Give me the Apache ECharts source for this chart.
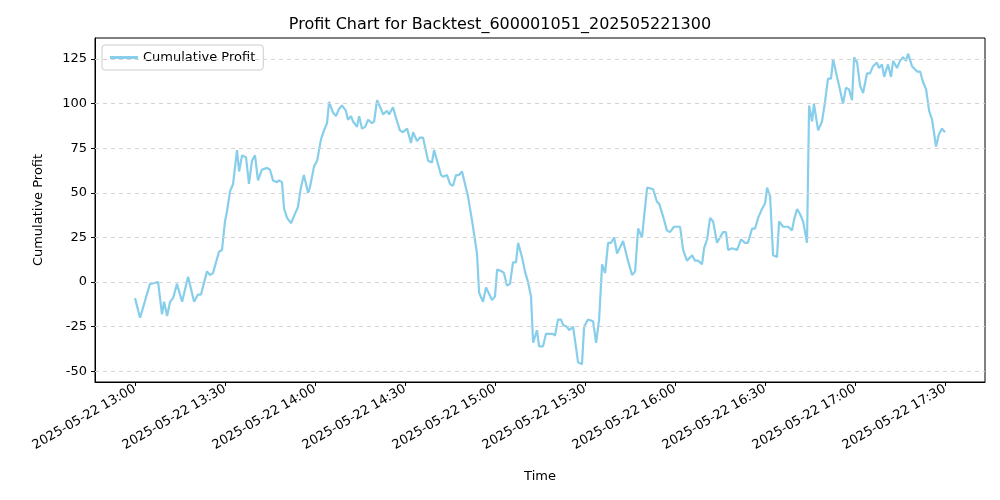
<!DOCTYPE html>
<html><head><meta charset="utf-8">
<script src="https://cdn.jsdelivr.net/npm/echarts@6/dist/echarts.min.js"></script>
<style>html,body{margin:0;padding:0;background:#fff}#main{width:1000px;height:500px}</style>
</head><body><div id="main"></div>
<script>
// minutes after 13:00 and cumulative profit
var minutes = [0,1.7,5,7.7,9,9.7,10.7,11.7,12.7,14,15.7,17.7,19.7,21,22,24,25,26,28,29,30,30.7,31.7,32.7,34,34.7,35.7,37,38,39,40,41,42.3,44,45,46,47.3,48,49,49.7,50.7,52,53,54.3,55.3,56.3,57.7,58.3,59.7,60.7,62,63,64,64.7,66,67,68,69,70.3,71,72,72.7,74,74.7,75.7,76.7,77.7,79,79.7,80.7,82,82.7,84,84.7,86,87,88.3,89.3,90.7,
  92,92.7,94,95,96,97.7,99,99.7,102,102.7,104,105,106,107,108,109,110,111,112.3,114,114.7,116,117,119,120,120.7,122.3,123,124,125,126,127,127.7,129,130,131,132,132.7,134,134.7,136,137,138.3,139.3,140,141,142,142.7,144,144.7,146,146.7,147.7,149,149.7,151,152.7,153.7,154.7,155.7,156.7,157.7,158.7,159.7,160.7,162.7,164.3,165.7,166.7,167.7,169,170.7,172.7,174,174.7,176,177.3,178.3,
  179.7,181.7,182.7,184,185.7,186.7,187.7,189,189.7,190.7,191.7,192.7,194,195,196,197,197.7,199,200.7,202,203.3,204.3,205.7,206.7,207.7,209,210,210.7,211.7,212.7,214,214.7,216,217.7,219,219.7,220.7,221.7,222.7,224,224.7,225.7,226.3,227.7,229,230,231,232,232.7,234,234.7,236,237,238,239,239.7,240.7,241.7,242.7,244,245,246,247.3,248,249,249.7,251,252,252.7,254,255,256,257,257.7,259,260.7,261.7,262.7,263.7,264.7,265.7,267,268,269,270];
var profit = [-9,-20,-1,0,-18,-11,-19,-11,-9,-1,-11,3,-11,-7,-7,6,4,5,17,18,34,40,51,55,74,62,71,70,55,68,71,57,63,64,63,57,56,57,56,41,36,33,37,42,53,60,50,53,65,68,80,85,89,101,95,93,97,99,96,91,93,90,87,93,86,87,91,89,90,102,97,94,96,94,98,92,85,84,86,
  78,84,79,81,81,68,67,74,60,59,60,55,54,60,60,62,55,48,35,16,-6,-11,-3,-10,-8,7,6,5,-2,-1,11,11,22,14,6,0,-8,-34,-27,-36,-36,-29,-29,-29,-30,-21,-21,-24,-25,-27,-25,-33,-45,-46,-25,-21,-22,-34,-21,10,5,22,22,25,16,23,12,4,6,30,25,53,52,45,44,37,29,28,
  31,31,18,12,15,12,12,10,19,24,36,34,22,25,28,28,18,19,18,24,22,22,30,30,36,41,44,53,48,15,14,34,31,31,29,35,41,38,34,22,99,90,100,85,90,101,114,114,125,115,110,100,109,108,102,126,123,110,106,117,117,121,123,120,122,115,122,115,124,120,124,126,124,128,121,118,118,112,108,96,91,76,83,86,84];
var tickMinutes = [0,30,60,90,120,150,180,210,240,270];
var yTicks = [-50,-25,0,25,50,75,100,125];

var data = profit.map(function (v, i) { return [minutes[i], v]; });

function label(m) {
  var h = 13 + Math.floor(m / 60), mm = m % 60;
  return '2025-05-22 ' + h + ':' + (mm < 10 ? '0' : '') + mm;
}

var myChart = echarts.init(document.getElementById('main'));
var font = 'DejaVu Sans';
option = {
  animation: false,
  textStyle: { fontFamily: font },
  title: { text: 'Profit Chart for Backtest_600001051_202505221300', left: 'center', top: 12,
    textStyle: { fontFamily: font, fontSize: 16, fontWeight: 'normal', color: '#000' } },
  legend: { left: 102, top: 45, itemWidth: 28, itemHeight: 3, borderColor: '#ccc', borderWidth: 1, borderRadius: 3,
    padding: [6, 8], icon: 'rect', textStyle: { fontFamily: font, fontSize: 13, color: '#000' } },
  grid: { left: 95, right: 15, top: 38, bottom: 118, show: true, borderColor: '#000', borderWidth: 1 },
  xAxis: {
    type: 'value', min: -13.33, max: 283.33, name: 'Time', nameLocation: 'middle', nameGap: 88,
    nameTextStyle: { fontFamily: font, fontSize: 13, color: '#000' },
    splitLine: { show: false },
    axisLine: { onZero: false, lineStyle: { color: '#000' } },
    axisTick: { show: true, customValues: tickMinutes, length: 4, lineStyle: { color: '#000' } },
    axisLabel: { customValues: tickMinutes, rotate: 30, formatter: label, fontSize: 13, color: '#000', fontFamily: font, margin: 6 }
  },
  yAxis: {
    type: 'value', min: -56, max: 136.8, name: 'Cumulative Profit', nameLocation: 'middle', nameGap: 50,
    nameTextStyle: { fontFamily: font, fontSize: 13, color: '#000' },
    splitLine: { show: false },
    axisLine: { show: true, onZero: false, lineStyle: { color: '#000' } },
    axisTick: { show: true, customValues: yTicks, length: 4, lineStyle: { color: '#000' } },
    axisLabel: { customValues: yTicks, fontSize: 13, color: '#000', fontFamily: font }
  },
  series: [{
    name: 'Cumulative Profit', type: 'line', data: data, showSymbol: false,
    lineStyle: { color: '#87ceeb', width: 2.2 }, itemStyle: { color: '#87ceeb' },
    markLine: { silent: true, symbol: 'none', label: { show: false },
      lineStyle: { color: '#d3d3d3', type: [4, 4], width: 1 },
      data: yTicks.map(function (v) { return { yAxis: v }; }) }
  }]
};
myChart.setOption(option);
</script></body></html>
